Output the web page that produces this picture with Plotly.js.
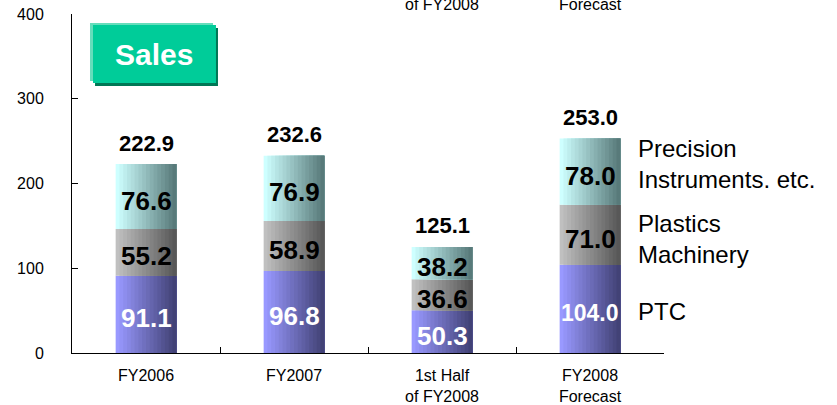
<!DOCTYPE html>
<html>
<head>
<meta charset="utf-8">
<script src="https://cdn.plot.ly/plotly-3.0.1.min.js"></script>
<style>
  html, body { margin: 0; padding: 0; background: #ffffff; }
  #chart { width: 837px; height: 405px; }
</style>
</head>
<body>
<div id="chart"></div>
<script>
// ---- data ----
const categories = ["FY2006", "FY2007", "1st Half<br>of FY2008", "FY2008<br>Forecast"];
const ptc = [91.1, 96.8, 50.3, 104.0];
const plastics = [55.2, 58.9, 36.6, 71.0];
const precision = [76.6, 76.9, 38.2, 78.0];
const totals = [222.9, 232.6, 125.1, 253.0];
const seriesNames = ["PTC", "Plastics<br>Machinery", "Precision<br>Instruments. etc."];
const yTicks = [0, 100, 200, 300, 400];
const topLabels = ["of FY2008", "Forecast"];

// ---- style ----
const FONT = "Liberation Sans, Arial, sans-serif";
const BAR_W = 0.41;
const STRIPS = 16;
const gradients = [
  [[153, 153, 255], [66, 66, 118]],   // PTC
  [[192, 192, 192], [88, 88, 88]],    // Plastics
  [[206, 255, 255], [88, 122, 122]]   // Precision
];
function lerpColor(a, b, t) {
  const c = a.map((v, k) => Math.round(v + (b[k] - v) * t));
  return "rgb(" + c.join(",") + ")";
}

const seriesValues = [ptc, plastics, precision];
const bases = [
  ptc.map(() => 0),
  ptc.slice(),
  ptc.map((v, i) => v + plastics[i])
];

const traces = [];
seriesValues.forEach((vals, s) => {
  for (let i = 0; i < STRIPS; i++) {
    const t = i / (STRIPS - 1);
    const off = -BAR_W / 2 + i * BAR_W / STRIPS;
    traces.push({
      type: "bar",
      x: categories,
      y: vals,
      base: bases[s],
      offset: off,
      width: BAR_W / 2 - off,
      marker: { color: lerpColor(gradients[s][0], gradients[s][1], t), line: { width: 0 } },
      hoverinfo: "skip",
      showlegend: false,
      name: seriesNames[s].replace(/<br>/g, " ")
    });
  }
});

const annotations = [];
// segment value labels
seriesValues.forEach((vals, s) => {
  vals.forEach((v, i) => {
    const txt = v.toFixed(1);
    annotations.push({
      xref: "x", yref: "y",
      x: categories[i], y: bases[s][i] + v / 2,
      text: "<b>" + txt + "</b>",
      showarrow: false,
      xanchor: "center",
      yanchor: "middle",
      yshift: -4,
      font: { family: FONT, size: txt.length > 4 ? 23 : 26, color: s === 0 ? "#ffffff" : "#000000" }
    });
  });
});
// totals
totals.forEach((v, i) => {
  annotations.push({
    xref: "x", yref: "y",
    x: categories[i], y: v,
    text: "<b>" + v.toFixed(1) + "</b>",
    showarrow: false,
    xanchor: "center",
    yanchor: "middle",
    yshift: 21,
    font: { family: FONT, size: 22, color: "#000000" }
  });
});
// series labels at right of last bar
const last = categories.length - 1;
const labelShift = [-3, -4, 8];
seriesValues.forEach((vals, s) => {
  annotations.push({
    xref: "x", yref: "y",
    x: categories[last], y: bases[s][last] + vals[last] / 2,
    text: seriesNames[s],
    showarrow: false,
    xanchor: "left", align: "left",
    xshift: 46,
    yanchor: "middle",
    yshift: labelShift[s],
    font: { family: FONT, size: 24, color: "#000000" }
  });
});
// cut-off labels at the very top
topLabels.forEach((t, k) => {
  annotations.push({
    xref: "x", yref: "paper",
    x: categories[2 + k], y: 1,
    text: t,
    showarrow: false,
    xanchor: "center",
    yanchor: "middle",
    yshift: 10,
    font: { family: FONT, size: 16, color: "#000000" }
  });
});
// "Sales" badge text
annotations.push({
  xref: "paper", yref: "paper",
  x: 0.1385, y: 0.882,
  xanchor: "center", yanchor: "middle",
  text: "<b>Sales</b>",
  showarrow: false,
  font: { family: FONT, size: 30, color: "#ffffff" }
});

const shapes = [
  { type: "rect", xref: "paper", yref: "paper", x0: 0.0304, x1: 0.2382, y0: 0.8024, y1: 0.9735,
    fillcolor: "#66DDBB", line: { width: 0 } },
  { type: "rect", xref: "paper", yref: "paper", x0: 0.0389, x1: 0.2466, y0: 0.7876, y1: 0.9587,
    fillcolor: "#007755", line: { width: 0 } },
  { type: "rect", xref: "paper", yref: "paper", x0: 0.0355, x1: 0.2432, y0: 0.7965, y1: 0.9676,
    fillcolor: "#00CC99", line: { width: 0 } }
];

const layout = {
  width: 837, height: 405,
  margin: { l: 72, r: 173, t: 14, b: 52, pad: 0 },
  paper_bgcolor: "#ffffff", plot_bgcolor: "#ffffff",
  barmode: "overlay",
  showlegend: false,
  font: { family: FONT, color: "#000000" },
  xaxis: {
    type: "category",
    categoryarray: categories,
    range: [-0.5, 3.5],
    showline: true, linecolor: "#000000", linewidth: 1,
    ticks: "inside", tickson: "boundaries", ticklen: 6, tickcolor: "#000000",
    showgrid: false, zeroline: false,
    tickfont: { family: FONT, size: 16, color: "#000000" },
    ticklabelstandoff: 8,
    fixedrange: true
  },
  yaxis: {
    range: [0, 400],
    tickvals: yTicks,
    ticktext: yTicks.map(String),
    showline: true, linecolor: "#000000", linewidth: 1,
    ticks: "inside", ticklen: 6, tickcolor: "#000000",
    showgrid: false, zeroline: false,
    tickfont: { family: FONT, size: 16, color: "#000000" },
    ticklabelstandoff: 24,
    fixedrange: true
  },
  annotations: annotations,
  shapes: shapes
};

Plotly.newPlot("chart", traces, layout, { displayModeBar: false, staticPlot: true });
</script>
</body>
</html>
